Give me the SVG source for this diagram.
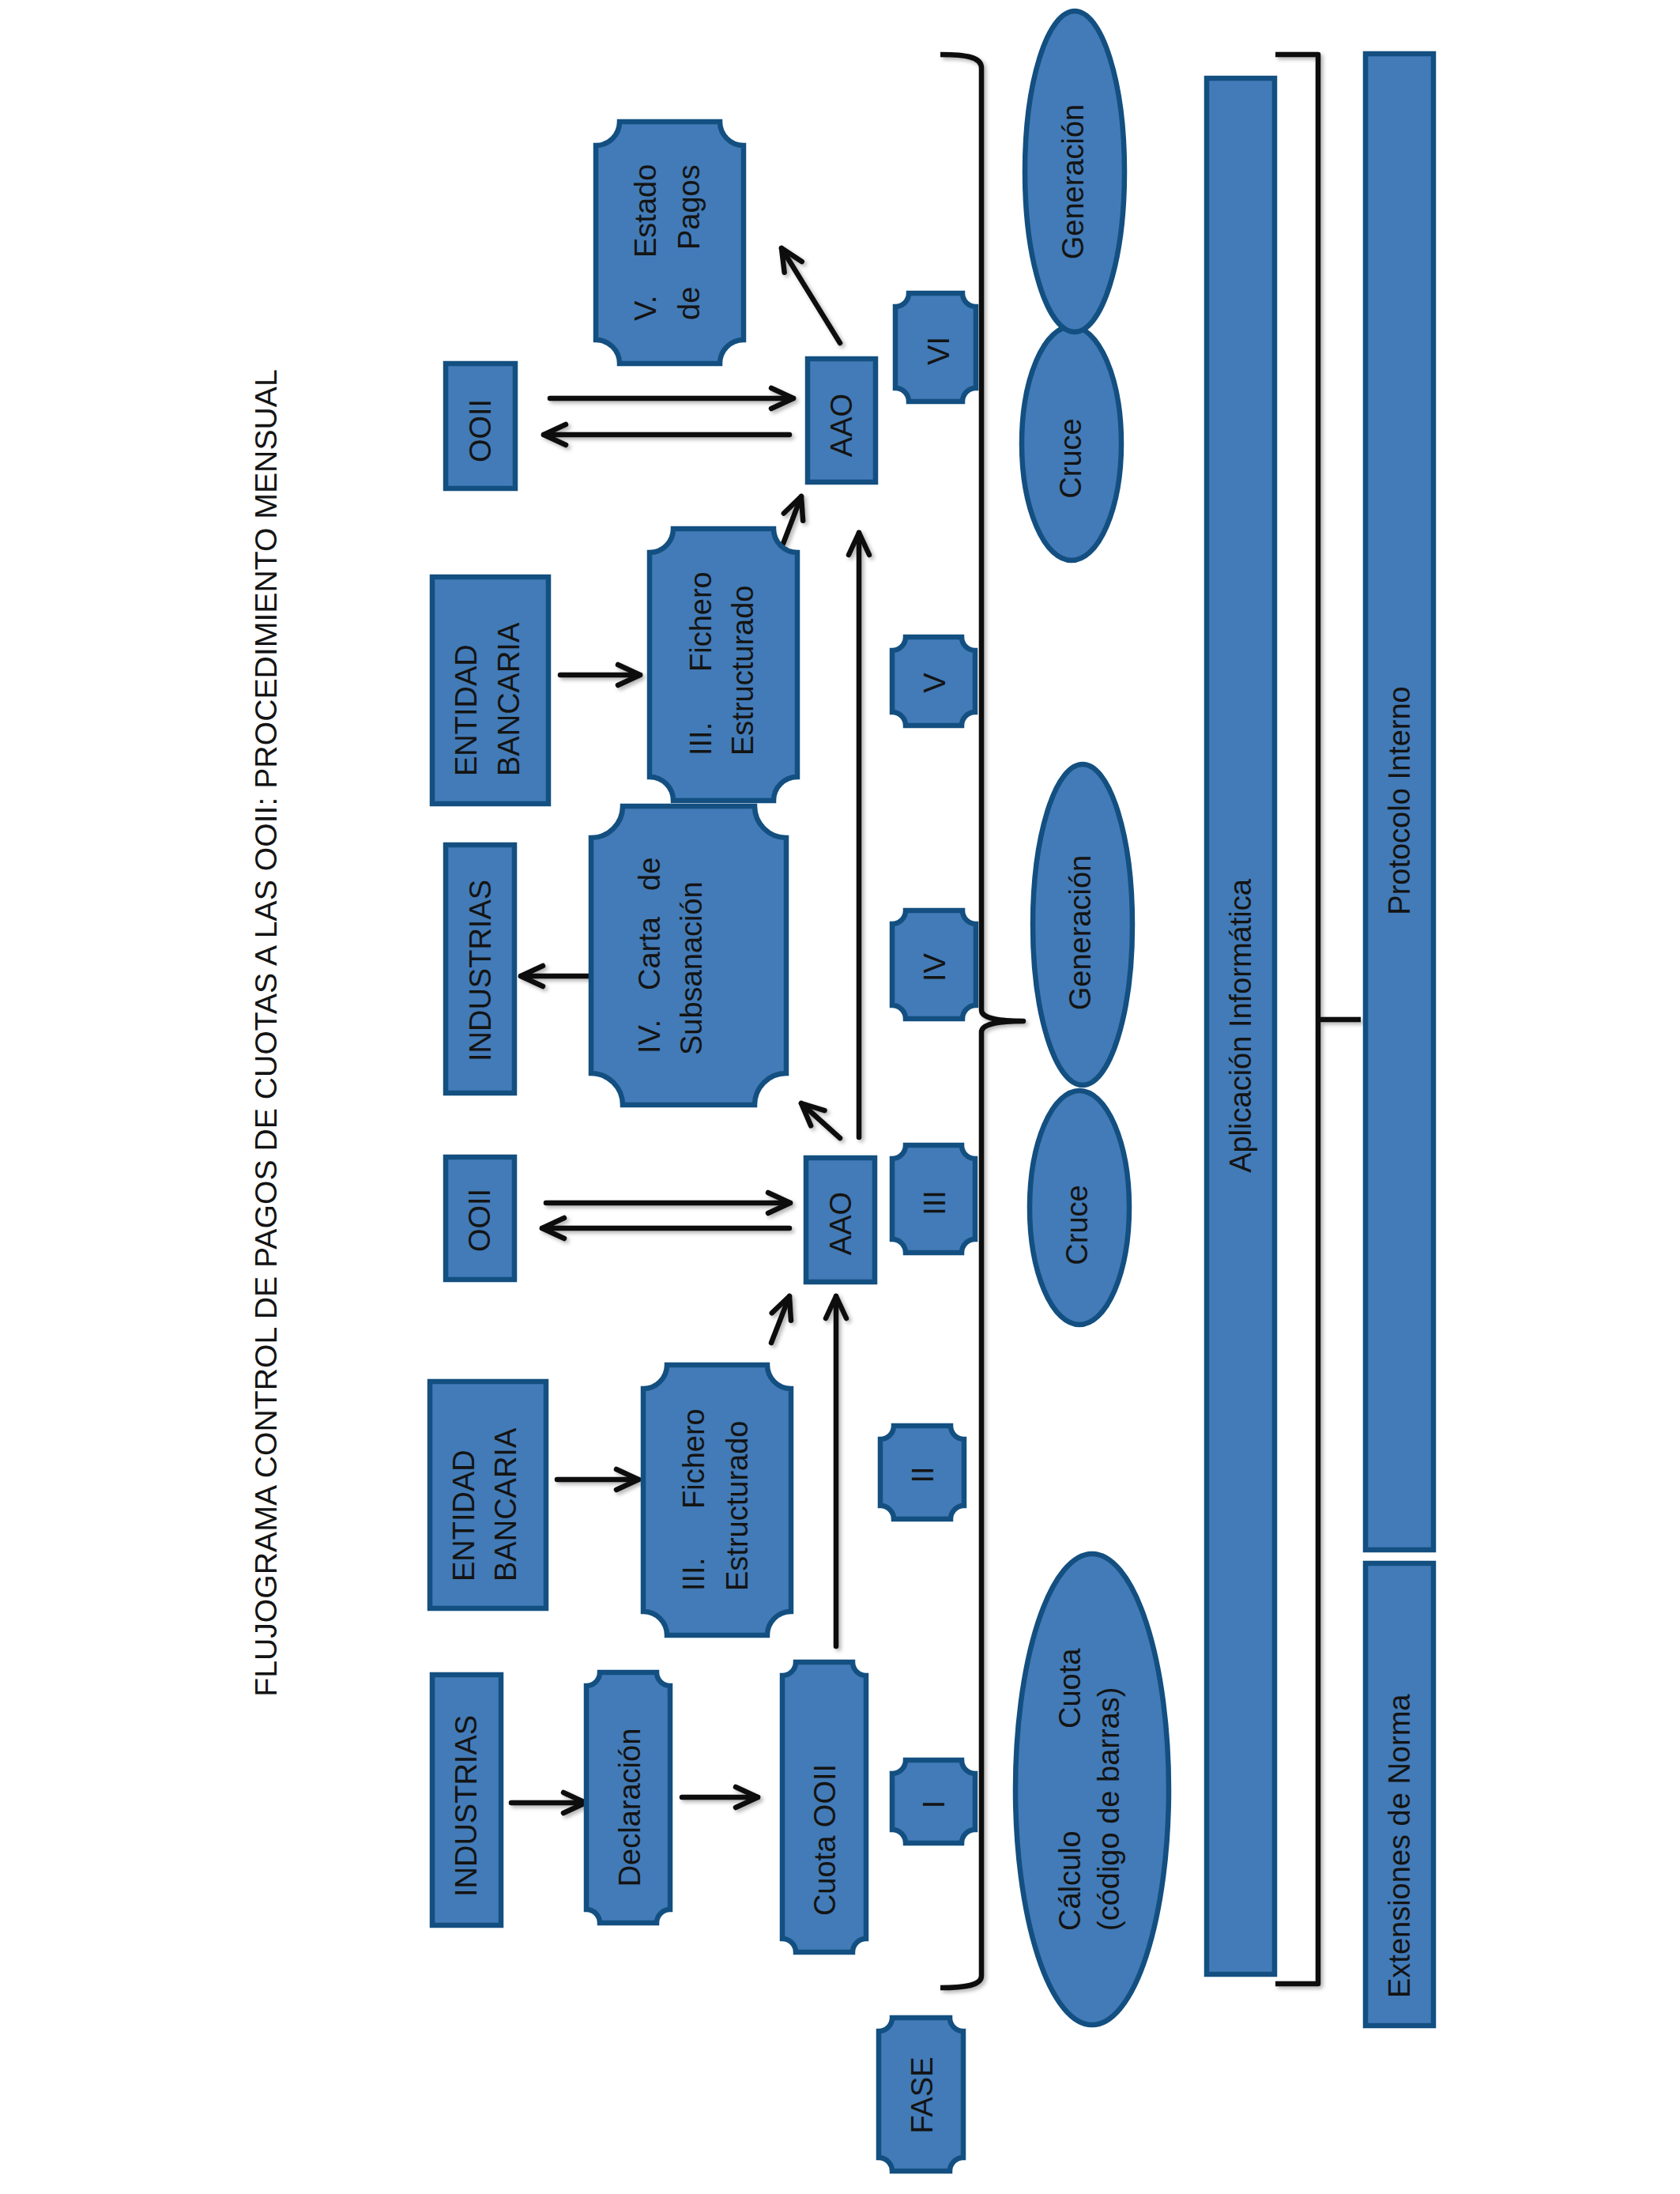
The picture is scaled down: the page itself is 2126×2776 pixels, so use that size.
<svg xmlns="http://www.w3.org/2000/svg" width="2126" height="2776" viewBox="0 0 2126 2776">
<style>
.n{fill:#427BB7;stroke:#134F80;stroke-width:6.5}
.t{font-family:"Liberation Sans",Arial,sans-serif;font-size:38px;fill:#141414}
.m{text-anchor:middle}
.c{stroke:#111;stroke-width:6.5;fill:none;stroke-linecap:round;marker-end:url(#ah)}
.b{stroke:#111;stroke-width:6.5;fill:none;stroke-linejoin:round}
</style>
<defs>
<filter id="sh" x="-20%" y="-20%" width="140%" height="140%">
<feDropShadow dx="3" dy="3" stdDeviation="2.5" flood-color="#000" flood-opacity="0.3"/>
</filter>
<marker id="ah" markerUnits="userSpaceOnUse" viewBox="-34 -18 40 36" refX="0" refY="0" markerWidth="40" markerHeight="36" orient="auto">
<path d="M-28,-13 L0,0 L-28,13" fill="none" stroke="#111" stroke-width="6.5" stroke-linecap="round" stroke-linejoin="round"/>
</marker>
</defs>
<rect width="2126" height="2776" fill="#fff"/>

<g id="title"><text class="t m" style="font-size:39.2px" transform="translate(350,1307) rotate(-90)">FLUJOGRAMA CONTROL DE PAGOS DE CUOTAS A LAS OOII: PROCEDIMIENTO MENSUAL</text></g>

<g id="connectors" filter="url(#sh)">
<path class="b" d="M1190,69 C1222,69 1242,72 1242,86 L1242,1278 C1242,1288 1262,1292 1295,1292 C1262,1292 1242,1296 1242,1306 L1242,2500 C1242,2512 1222,2515 1190,2515"/>
<path class="b" d="M1614,69 L1668,69 L1668,2510 L1614,2510 M1668,1290 L1722,1290"/>
<line class="c" x1="647" y1="2281" x2="741" y2="2281"/>
<line class="c" x1="863" y1="2274" x2="959" y2="2274"/>
<line class="c" x1="705" y1="1872" x2="808" y2="1872"/>
<line class="c" x1="1058" y1="2083" x2="1058" y2="1640"/>
<line class="c" x1="976" y1="1699" x2="999" y2="1640"/>
<line class="c" x1="691" y1="1522" x2="1000" y2="1522"/>
<line class="c" x1="999" y1="1554" x2="686" y2="1554"/>
<line class="c" x1="1063" y1="1440" x2="1014" y2="1396"/>
<line class="c" x1="1087" y1="1439" x2="1087" y2="674"/>
<line class="c" x1="745" y1="1235" x2="659" y2="1235"/>
<line class="c" x1="709" y1="854" x2="810" y2="854"/>
<line class="c" x1="991" y1="688" x2="1014" y2="628"/>
<line class="c" x1="696" y1="504" x2="1004" y2="504"/>
<line class="c" x1="999" y1="550" x2="688" y2="550"/>
<line class="c" x1="1063" y1="434" x2="989" y2="314"/>
</g>

<g id="industrias1"><rect class="n" x="547" y="2119" width="87" height="317"/><text class="t m" transform="translate(603,2285) rotate(-90)">INDUSTRIAS</text></g>
<g id="declaracion"><path class="n" d="M759,2116 H831 A17,17 0 0 0 848,2133 V2416 A17,17 0 0 0 831,2433 H759 A17,17 0 0 0 742,2416 V2133 A17,17 0 0 0 759,2116 Z"/><text class="t m" transform="translate(810,2287) rotate(-90)">Declaración</text></g>
<g id="cuota"><path class="n" d="M1007,2103 H1079 A17,17 0 0 0 1096,2120 V2453 A17,17 0 0 0 1079,2470 H1007 A17,17 0 0 0 990,2453 V2120 A17,17 0 0 0 1007,2103 Z"/><text class="t m" transform="translate(1057,2328) rotate(-90)">Cuota OOII</text></g>

<g id="entidad1"><rect class="n" x="544" y="1748" width="147" height="287"/><text class="t" transform="translate(600,2001) rotate(-90)"><tspan x="0" y="0">ENTIDAD</tspan><tspan x="0" y="53">BANCARIA</tspan></text></g>
<g id="fichero1"><path class="n" d="M844,1727 H971 A30,30 0 0 0 1001,1757 V2039 A30,30 0 0 0 971,2069 H844 A30,30 0 0 0 814,2039 V1757 A30,30 0 0 0 844,1727 Z"/><text class="t" transform="translate(891,2013) rotate(-90)"><tspan x="0" y="0">III.</tspan><tspan x="104" y="0">Fichero</tspan><tspan x="0" y="55">Estructurado</tspan></text></g>

<g id="ooii1"><rect class="n" x="564" y="1464" width="87" height="155"/><text class="t m" transform="translate(620,1544) rotate(-90)">OOII</text></g>
<g id="aao1"><rect class="n" x="1020" y="1465" width="87" height="157"/><text class="t m" transform="translate(1077,1548) rotate(-90)">AAO</text></g>

<g id="industrias2"><rect class="n" x="564" y="1069" width="87" height="314"/><text class="t m" transform="translate(621,1228) rotate(-90)">INDUSTRIAS</text></g>
<g id="carta"><path class="n" d="M788,1020 H955 A40,40 0 0 0 995,1060 V1358 A40,40 0 0 0 955,1398 H788 A40,40 0 0 0 748,1358 V1060 A40,40 0 0 0 788,1020 Z"/><text class="t" transform="translate(835,1333) rotate(-90)"><tspan x="0" y="0">IV.</tspan><tspan x="80" y="0">Carta</tspan><tspan x="206" y="0">de</tspan><tspan x="-2" y="53">Subsanación</tspan></text></g>

<g id="entidad2"><rect class="n" x="547" y="730" width="147" height="287"/><text class="t" transform="translate(603,982) rotate(-90)"><tspan x="0" y="0">ENTIDAD</tspan><tspan x="0" y="54">BANCARIA</tspan></text></g>
<g id="fichero2"><path class="n" d="M852,669 H979 A30,30 0 0 0 1009,699 V983 A30,30 0 0 0 979,1013 H852 A30,30 0 0 0 822,983 V699 A30,30 0 0 0 852,669 Z"/><text class="t" transform="translate(900,956) rotate(-90)"><tspan x="0" y="0">III.</tspan><tspan x="106" y="0">Fichero</tspan><tspan x="0" y="53">Estructurado</tspan></text></g>

<g id="ooii2"><rect class="n" x="564" y="460" width="88" height="158"/><text class="t m" transform="translate(621,545) rotate(-90)">OOII</text></g>
<g id="aao2"><rect class="n" x="1022" y="454" width="86" height="156"/><text class="t m" transform="translate(1078,538) rotate(-90)">AAO</text></g>
<g id="estado"><path class="n" d="M784,154 H911 A30,30 0 0 0 941,184 V430 A30,30 0 0 0 911,460 H784 A30,30 0 0 0 754,430 V184 A30,30 0 0 0 784,154 Z"/><text class="t" transform="translate(830,406) rotate(-90)"><tspan x="0" y="0">V.</tspan><tspan x="80" y="0">Estado</tspan><tspan x="1" y="55">de</tspan><tspan x="90" y="55">Pagos</tspan></text></g>

<g id="fase-i"><path class="n" d="M1146,2227 H1217 A17,17 0 0 0 1234,2244 V2315 A17,17 0 0 0 1217,2332 H1146 A17,17 0 0 0 1129,2315 V2244 A17,17 0 0 0 1146,2227 Z"/><text class="t m" transform="translate(1195,2283) rotate(-90)">I</text></g>
<g id="fase-ii"><path class="n" d="M1131,1804 H1203 A17,17 0 0 0 1220,1821 V1905 A17,17 0 0 0 1203,1922 H1131 A17,17 0 0 0 1114,1905 V1821 A17,17 0 0 0 1131,1804 Z"/><text class="t m" transform="translate(1181,1866) rotate(-90)">II</text></g>
<g id="fase-iii"><path class="n" d="M1146,1449 H1217 A17,17 0 0 0 1234,1466 V1568 A17,17 0 0 0 1217,1585 H1146 A17,17 0 0 0 1129,1568 V1466 A17,17 0 0 0 1146,1449 Z"/><text class="t m" transform="translate(1196,1522) rotate(-90)">III</text></g>
<g id="fase-iv"><path class="n" d="M1146,1152 H1218 A17,17 0 0 0 1235,1169 V1272 A17,17 0 0 0 1218,1289 H1146 A17,17 0 0 0 1129,1272 V1169 A17,17 0 0 0 1146,1152 Z"/><text class="t m" transform="translate(1196,1224) rotate(-90)">IV</text></g>
<g id="fase-v"><path class="n" d="M1146,806 H1217 A17,17 0 0 0 1234,823 V901 A17,17 0 0 0 1217,918 H1146 A17,17 0 0 0 1129,901 V823 A17,17 0 0 0 1146,806 Z"/><text class="t m" transform="translate(1196,864) rotate(-90)">V</text></g>
<g id="fase-vi"><path class="n" d="M1150,371 H1218 A17,17 0 0 0 1235,388 V491 A17,17 0 0 0 1218,508 H1150 A17,17 0 0 0 1133,491 V388 A17,17 0 0 0 1150,371 Z"/><text class="t m" transform="translate(1201,444) rotate(-90)">VI</text></g>
<g id="fase"><path class="n" d="M1129,2553 H1202 A17,17 0 0 0 1219,2570 V2730 A17,17 0 0 0 1202,2747 H1129 A17,17 0 0 0 1112,2730 V2570 A17,17 0 0 0 1129,2553 Z"/><text class="t m" transform="translate(1180,2651) rotate(-90)">FASE</text></g>

<g id="calculo"><ellipse class="n" cx="1382" cy="2264" rx="97" ry="298"/><text class="t" transform="translate(1367,2443) rotate(-90)"><tspan x="0" y="0">Cálculo</tspan><tspan x="256" y="0">Cuota</tspan><tspan x="0" y="49">(código de barras)</tspan></text></g>
<g id="cruce1"><ellipse class="n" cx="1366" cy="1528" rx="63" ry="148"/><text class="t m" transform="translate(1376,1550) rotate(-90)">Cruce</text></g>
<g id="generacion1"><ellipse class="n" cx="1370" cy="1170" rx="63" ry="203"/><text class="t m" transform="translate(1380,1180) rotate(-90)">Generación</text></g>
<g id="cruce2"><ellipse class="n" cx="1356" cy="561" rx="63" ry="148"/><text class="t m" transform="translate(1368,580) rotate(-90)">Cruce</text></g>
<g id="generacion2"><ellipse class="n" cx="1360" cy="217" rx="63" ry="203"/><text class="t m" transform="translate(1371,230) rotate(-90)">Generación</text></g>

<g id="aplicacion"><rect class="n" x="1527" y="99" width="86" height="2399"/><text class="t m" transform="translate(1583,1298) rotate(-90)">Aplicación Informática</text></g>
<g id="protocolo"><rect class="n" x="1728" y="68" width="86" height="1893"/><text class="t m" transform="translate(1784,1013) rotate(-90)">Protocolo Interno</text></g>
<g id="extensiones"><rect class="n" x="1728" y="1978" width="86" height="585"/><text class="t" transform="translate(1784,2528) rotate(-90)">Extensiones de Norma</text></g>
</svg>
